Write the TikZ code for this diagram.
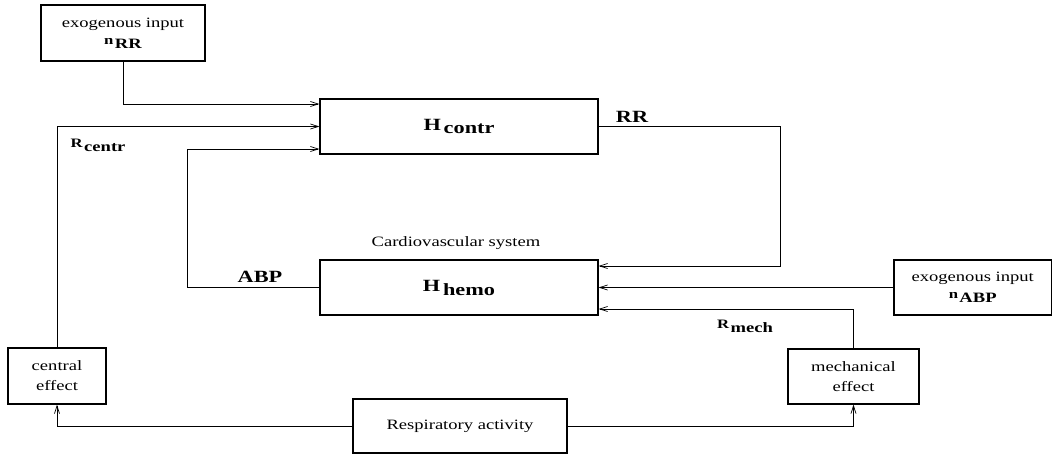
\documentclass[tikz,border=0pt]{standalone}
\usepackage{fontspec}
\setmainfont{Liberation Serif}[FakeStretch=1.3]
\usetikzlibrary{arrows.meta,calc}

% small bold letter followed by a lowered bold name
\newcommand{\sig}[2]{\textbf{\small #1}\kern1pt\raisebox{-0.6ex}{\textbf{#2}}}

\begin{document}
\begin{tikzpicture}[x=0.7pt,y=-0.7pt,
    box/.style={draw,line width=0.8pt,inner sep=0pt,align=center},
    link/.style={line width=0.5pt},
    >={Straight Barb[length=5.5pt,width=3.5pt]}]
            \useasboundingbox (0,0) rectangle (1052,455);
            \node[box,minimum width=114.8pt,minimum height=39.2pt] at (123,33) (exorr) {exogenous input\\ \sig{n}{RR}};
            \node[box,minimum width=194.6pt,minimum height=38.5pt] at (459,126.5) (hcontr) {\large\bfseries H\,\raisebox{-0.5ex}{contr}};
            \node[box,minimum width=194.6pt,minimum height=38.5pt] at (459,287.5) (hhemo) {\large\bfseries H\,\raisebox{-0.5ex}{hemo}};
            \node[] at (456,243) (cvs) {Cardiovascular system};
            \node[box,minimum width=110.2pt,minimum height=38.5pt] at (972.7,287.5) (exoabp) {exogenous input\\ \sig{n}{ABP}};
            \node[box,minimum width=68.6pt,minimum height=39.2pt] at (57,376) (central) {central\\[2pt] effect};
            \node[box,minimum width=91.7pt,minimum height=38.5pt] at (853.5,376.5) (mech) {mechanical\\[2pt] effect};
            \node[box,minimum width=149.8pt,minimum height=37.8pt] at (460,426) (resp) {Respiratory activity};
            \node[] at (98,145) (rcentr) {\sig{R}{centr}};
            \node[] at (632,117) (rr) {\large\bfseries RR};
            \node[] at (260,277) (abp) {\large\bfseries ABP};
            \node[] at (745,326) (rmech) {\sig{R}{mech}};
            \draw[link,->] (exorr.south) |- ($(hcontr.west)+(0,-22.5)$);
            \draw[link,->] (central.north) |- (hcontr.west);
            \draw[link,->] (hhemo.west) -- ++(-132,0) |- ($(hcontr.west)+(0,22.5)$);
            \draw[link,->] (hcontr.east) -- ++(182,0) |- ($(hhemo.east)+(0,-21.5)$);
            \draw[link,->] (exoabp.west) -- (hhemo.east);
            \draw[link,->] (mech.north) |- ($(hhemo.east)+(0,21.5)$);
            \draw[link,->] (resp.west) -| (central.south);
            \draw[link,->] (resp.east) -| (mech.south);
        \end{tikzpicture}
\end{document}
